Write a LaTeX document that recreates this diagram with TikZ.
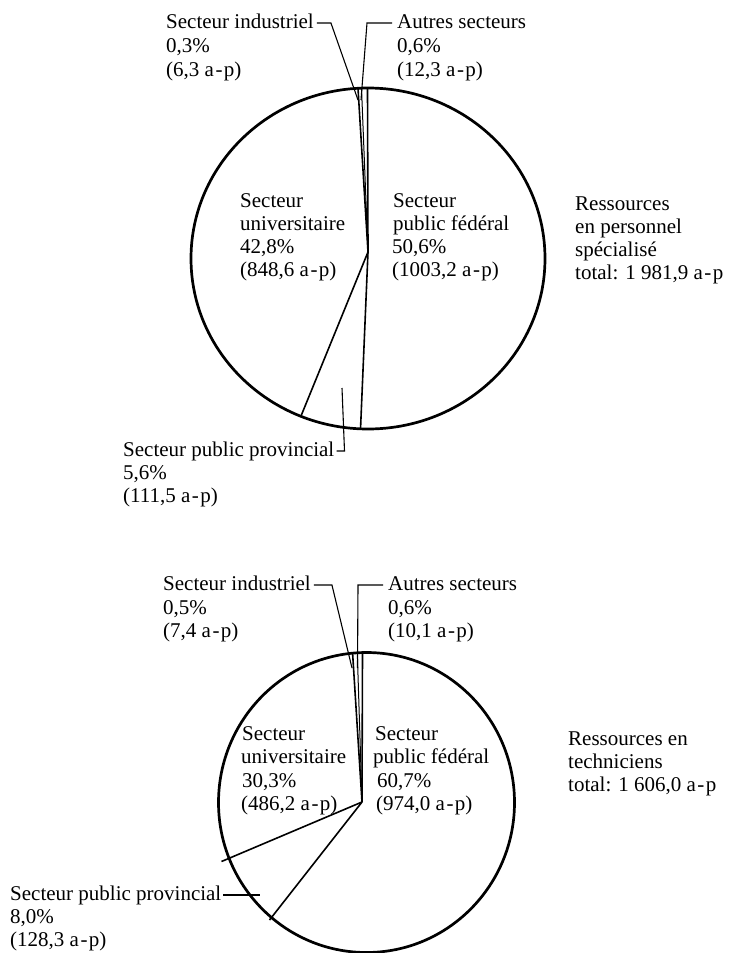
\documentclass[tikz,border=0pt]{standalone}
\usepackage{fontspec}
\setmainfont{Liberation Serif}
\usetikzlibrary{calc}
\newcommand{\ap}{a\kern1.5pt-\kern1.5pt p}
\begin{document}
\begin{tikzpicture}[x=1pt,y=-1pt,
  lbl/.style={anchor=base west, inner sep=0pt, font=\fontsize{21}{23}\selectfont},
  rim/.style={line width=2.7pt},
  sep/.style={line width=1.6pt},
  thin/.style={line width=1.0pt},
  lead/.style={line width=1.1pt}]
\useasboundingbox (0,0) rectangle (731,953);
\fill[white] (0,0) rectangle (731,953);

% ---------------- top pie ----------------
\coordinate (tC) at (368,258.5);
\coordinate (tV) at (368,252);
\coordinate (tFP) at (360.5,429.5);
\coordinate (tPU) at (301,416);
\coordinate (tUI) at (358,88.3);
\coordinate (tIA) at (361.5,88.2);
\coordinate (tAF) at (367.5,88);
\draw[rim] (tC) ellipse [x radius=177pt, y radius=170.5pt];
\draw[sep] (tV) -- (tFP);
\draw[sep] (tV) -- (tPU);
\draw[sep] (tV) -- (tUI);
\draw[thin] (tV) -- (tIA);
\draw[sep] (tV) -- (tAF);

\node[lbl] (tUni1) at (240,207) {Secteur};
\node[lbl] (tUni2) at (240,230) {universitaire};
\node[lbl] (tUni3) at (240,253) {42,8\%};
\node[lbl] (tUni4) at (240,276) {(848,6 \ap)};

\node[lbl] (tFed1) at (393,207) {Secteur};
\node[lbl] (tFed2) at (393,230) {public fédéral};
\node[lbl] (tFed3) at (392,253) {50,6\%};
\node[lbl] (tFed4) at (392,276) {(1003,2 \ap)};

\node[lbl] (tRes1) at (575,210) {Ressources};
\node[lbl] (tRes2) at (575,233) {en personnel};
\node[lbl] (tRes3) at (575,256) {spécialisé};
\node[lbl] (tRes4) at (575,279) {total: 1 981,9 \ap};

\node[lbl] (tInd1) at (166,28) {Secteur industriel};
\node[lbl] (tInd2) at (166,52) {0,3\%};
\node[lbl] (tInd3) at (166,76) {(6,3 \ap)};

\node[lbl] (tAut1) at (397,28) {Autres secteurs};
\node[lbl] (tAut2) at (397,52) {0,6\%};
\node[lbl] (tAut3) at (397,76) {(12,3 \ap)};

\node[lbl] (tPro1) at (123,456) {Secteur public provincial};
\node[lbl] (tPro2) at (123,479) {5,6\%};
\node[lbl] (tPro3) at (123,502) {(111,5 \ap)};

\coordinate (tIndEnd) at (358,100);
\coordinate (tAutEnd) at (361,100);
\coordinate (tProEnd) at (342,388);
\draw[lead] ($(tInd1.base east)+(3,-5)$) -- ++(14,0) -- (tIndEnd);
\draw[lead] ($(tAut1.base west)+(-5,-5)$) -- ++(-25,0) -- (tAutEnd);
\draw[lead] ($(tPro1.base east)+(2,-5)$) -- ++(8,0) -- (tProEnd);

% ---------------- bottom pie ----------------
\coordinate (bC) at (366.5,802.5);
\coordinate (bV) at (362,802);
\coordinate (bFP) at (269.5,920);
\coordinate (bPU) at (221.5,861.5);
\coordinate (bUI) at (352.6,653.3);
\coordinate (bIA) at (357.3,652.8);
\coordinate (bAF) at (362.5,652.6);
\draw[rim] (bC) ellipse [x radius=148pt, y radius=150pt];
\draw[sep] (bV) -- (bFP);
\draw[sep] (bV) -- (bPU);
\draw[sep] (bV) -- (bUI);
\draw[thin] (bV) -- (bIA);
\draw[sep] (bV) -- (bAF);

\node[lbl] (bUni1) at (242,740) {Secteur};
\node[lbl] (bUni2) at (241,763) {universitaire};
\node[lbl] (bUni3) at (242,787) {30,3\%};
\node[lbl] (bUni4) at (241,810) {(486,2 \ap)};

\node[lbl] (bFed1) at (375,740) {Secteur};
\node[lbl] (bFed2) at (373,763) {public fédéral};
\node[lbl] (bFed3) at (377,787) {60,7\%};
\node[lbl] (bFed4) at (376,810) {(974,0 \ap)};

\node[lbl] (bRes1) at (568,745) {Ressources en};
\node[lbl] (bRes2) at (568,768) {techniciens};
\node[lbl] (bRes3) at (568,791) {total: 1 606,0 \ap};

\node[lbl] (bInd1) at (163,590) {Secteur industriel};
\node[lbl] (bInd2) at (163,614) {0,5\%};
\node[lbl] (bInd3) at (163,637) {(7,4 \ap)};

\node[lbl] (bAut1) at (388,590) {Autres secteurs};
\node[lbl] (bAut2) at (388,614) {0,6\%};
\node[lbl] (bAut3) at (388,637) {(10,1 \ap)};

\node[lbl] (bPro1) at (10,900) {Secteur public provincial};
\node[lbl] (bPro2) at (10,923) {8,0\%};
\node[lbl] (bPro3) at (10,946) {(128,3 \ap)};

\coordinate (bIndEnd) at (352,668);
\coordinate (bAutEnd) at (357.5,668);
\draw[lead] ($(bInd1.base east)+(3,-5)$) -- ++(18,0) -- (bIndEnd);
\draw[lead] ($(bAut1.base west)+(-5,-5)$) -- ++(-25,0) -- (bAutEnd);
\draw[lead] ($(bPro1.base east)+(2,-5)$) -- ++(36,0);
\end{tikzpicture}
\end{document}
